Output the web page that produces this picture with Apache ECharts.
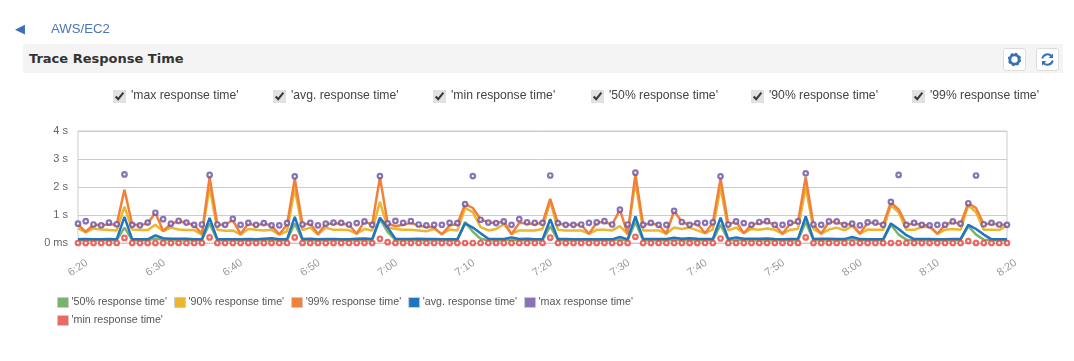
<!DOCTYPE html>
<html><head><meta charset="utf-8">
<style>
html,body{margin:0;padding:0;background:#fff;width:1074px;height:361px;overflow:hidden;font-family:"Liberation Sans",Arial,sans-serif}
#chart{position:absolute;left:0;top:0;width:1074px;height:361px}
.a{position:absolute}
#panel{left:23px;top:44px;width:1040px;height:29px;background:#f4f4f4}
#title{left:29px;top:51px;font:bold 13px "DejaVu Sans",sans-serif;color:#333;white-space:nowrap}
#back{left:15px;top:21px;font:13px "DejaVu Sans",sans-serif;color:#3a70b5}
#crumb{left:51px;top:21px;font-size:13.2px;color:#4a76b8}
.btn{top:48px;width:21px;height:21px;background:#fff;border:1px solid #ddd;border-radius:3px}
.btn svg{position:absolute;left:3px;top:3px}
.chk{top:90px;height:14px;display:block;font-size:12.2px;color:#444;white-space:nowrap}
.chk input{position:absolute;left:0;top:0;margin:0;width:13px;height:13px;accent-color:#e2e2e2}
.chk span{position:absolute;left:18px;top:-2px}
</style></head><body>
<div id="chart"></div>
<div class="a" id="back">◀</div>
<div class="a" id="crumb">AWS/EC2</div>
<div class="a" id="panel"></div>
<div class="a" id="title">Trace Response Time</div>
<div class="a btn" style="left:1003px"><svg width="15" height="15" viewBox="0 0 15 15"><circle cx="7.5" cy="7.5" r="4.6" fill="none" stroke="#3a70b5" stroke-width="2.8"/><circle cx="7.5" cy="7.5" r="5.8" fill="none" stroke="#3a70b5" stroke-width="1.8" stroke-dasharray="2.3 2.25"/></svg></div>
<div class="a btn" style="left:1036px"><svg width="15" height="15" viewBox="0 0 15 15" fill="none" stroke="#3a70b5" stroke-width="2"><path d="M2.3 6.5A5.3 5.3 0 0 1 11.6 4.2"/><path d="M12.7 8.5A5.3 5.3 0 0 1 3.4 10.8"/><path d="M13 1.6V6H8.6Z M2 13.4V9H6.4Z" fill="#3a70b5" stroke="none"/></svg></div>
<div id="checks"></div>
<script src="https://cdn.jsdelivr.net/npm/echarts@6/dist/echarts.min.js"></script>
<script>
const tickLabels=['6:20','6:30','6:40','6:50','7:00','7:10','7:20','7:30','7:40','7:50','8:00','8:10','8:20'];
const yTicks=['0 ms','1 s','2 s','3 s','4 s'];
const checkLabels=["'max response time'","'avg. response time'","'min response time'","'50% response time'","'90% response time'","'99% response time'"];
const checkX=[113,273,433,591,751,912];
const maxRT=[.69,.78,.66,.63,.73,.67,2.45,.65,.63,.73,1.08,.85,.69,.79,.73,.65,.66,2.43,.66,.65,.86,.65,.72,.65,.71,.63,.63,.71,2.38,.66,.72,.63,.69,.73,.72,.66,.71,.77,.65,2.39,
.7,.79,.72,.78,.66,.63,.65,.65,.72,.71,1.39,2.39,.83,.73,.71,.77,.65,.85,.74,.72,.72,2.41,.71,.65,.65,.66,.72,.74,.78,.66,1.19,.66,2.51,.65,.72,.65,.65,1.15,.75,.65,.71,.72,
.74,2.38,.66,.77,.71,.65,.75,.78,.65,.65,.72,.77,2.49,.66,.65,.77,.77,.65,.69,.63,.74,.73,.65,1.47,2.43,.65,.72,.65,.63,.65,.65,.77,.69,1.42,2.41,.67,.72,.66,.65];
const p99=[.66,.4,.65,.63,.66,.66,1.9,.66,.63,.7,1.08,.43,.68,.78,.72,.64,.33,2.35,.66,.65,.82,.32,.7,.62,.7,.62,.31,.65,2.3,.66,.7,.32,.68,.7,.7,.65,.33,.77,.65,2.35,
.7,.6,.65,.72,.62,.58,.55,.31,.62,.68,1.39,1.25,.85,.73,.71,.77,.31,.72,.7,.68,.72,1.58,.7,.65,.65,.65,.33,.72,.76,.65,1.19,.32,2.45,.65,.7,.65,.33,1.15,.75,.65,.7,.35,
.72,2.3,.66,.77,.35,.65,.72,.76,.65,.33,.7,.75,2.35,.66,.33,.75,.75,.65,.68,.33,.72,.72,.65,1.45,1.2,.65,.7,.65,.62,.33,.65,.75,.68,1.42,1.25,.67,.7,.66,.65];
const p90=[.52,.38,.52,.48,.46,.45,1.3,.48,.46,.46,.65,.42,.55,.48,.46,.46,.3,2,.47,.44,.45,.3,.5,.47,.45,.47,.3,.42,1.95,.46,.55,.3,.55,.47,.47,.46,.33,.5,.45,1.47,
.55,.5,.47,.47,.45,.42,.5,.32,.48,.45,1.25,1.1,.57,.45,.5,.67,.33,.45,.45,.45,.5,1.5,.47,.45,.45,.45,.33,.47,.47,.45,.6,.32,2.2,.45,.45,.45,.33,.55,.5,.55,.45,.35,
.48,2,.45,.55,.35,.5,.47,.52,.47,.33,.47,.5,2,.5,.33,.48,.55,.45,.6,.33,.48,.47,.47,1.35,1.1,.47,.47,.57,.57,.33,.47,.5,.47,1.35,1.1,.47,.47,.46,.63];
const avgRT=[.13,.14,.13,.13,.14,.13,.93,.13,.13,.13,.27,.17,.15,.15,.15,.13,.13,.9,.13,.13,.13,.13,.14,.13,.15,.17,.13,.13,.93,.14,.15,.13,.14,.14,.13,.13,.15,.16,.14,.9,
.55,.15,.14,.14,.15,.14,.14,.13,.13,.13,.7,.55,.35,.15,.14,.14,.2,.14,.15,.13,.13,.85,.14,.14,.13,.13,.13,.13,.13,.13,.22,.13,.95,.14,.14,.14,.14,.19,.15,.17,.15,.14,
.14,.9,.14,.2,.15,.15,.15,.16,.14,.13,.14,.15,.95,.14,.15,.15,.14,.14,.22,.14,.13,.13,.13,.7,.5,.28,.14,.14,.14,.13,.13,.14,.14,.65,.5,.3,.13,.13,.13];
const p50=[.1,.1,.1,.1,.1,.1,.55,.1,.1,.1,.16,.12,.1,.1,.1,.1,.1,.7,.1,.1,.1,.1,.1,.1,.1,.1,.1,.1,.7,.1,.1,.1,.1,.1,.1,.1,.1,.1,.1,.85,
.4,.1,.1,.1,.1,.1,.1,.1,.1,.1,.75,.4,.15,.1,.1,.1,.12,.1,.1,.1,.1,.6,.1,.1,.1,.1,.1,.1,.1,.1,.13,.1,.75,.1,.1,.1,.1,.12,.1,.1,.1,.1,
.1,.65,.1,.12,.1,.1,.1,.1,.1,.1,.1,.1,.75,.1,.1,.1,.1,.1,.14,.1,.1,.1,.1,.65,.3,.12,.1,.1,.1,.1,.1,.1,.1,.6,.3,.12,.1,.1,.1];
const minRT=[0,0,0,0,0,0,.18,0,0,0,0,0,0,0,0,0,0,.2,0,0,0,0,0,0,0,0,0,0,.2,0,0,0,0,0,0,0,0,0,0,.15,
.03,0,0,0,0,0,0,0,0,0,0,0,0,0,0,0,0,0,0,0,0,.19,0,0,0,0,0,0,0,0,0,0,.22,0,0,0,0,0,0,0,0,0,
0,.16,0,0,0,0,0,0,0,0,0,0,.2,0,0,0,0,0,0,0,0,0,0,0,0,0,0,0,0,0,0,0,0,.07,0,0,0,0,0];
const colors={p50:'#7cb26f',p90:'#eeb52f',p99:'#f0803a',avg:'#1f76bf',max:'#6a50a1',min:'#e5453c'};
const names=["'50% response time'","'90% response time'","'99% response time'","'avg. response time'","'max response time'","'min response time'"];

document.getElementById('checks').innerHTML=checkLabels.map((t,i)=>`<label class="a chk" style="left:${checkX[i]}px"><input type="checkbox" checked><span>${t}</span></label>`).join('');

const cats=[];
for(let h=6,m=20;cats.length<maxRT.length;){cats.push(h+':'+String(m).padStart(2,'0'));m++;if(m==60){m=0;h++;}}
const line=(name,data,color)=>({name,type:'line',data,showSymbol:false,symbol:'none',lineStyle:{color,width:2.5},itemStyle:{color},animation:false,z:2});
const dots=(name,data,color)=>({name,type:'scatter',data,symbol:'circle',symbolSize:4.5,clip:false,itemStyle:{color:'#fff',borderColor:color,borderWidth:2.2},animation:false,z:3});
const lgColors=[colors.p50,colors.p90,colors.p99,colors.avg,colors.max,colors.min];
const chart=echarts.init(document.getElementById('chart'),null,{renderer:'canvas'});
chart.setOption({
 animation:false,
 grid:{left:78,right:67,top:131,bottom:118,show:true,borderColor:'#ccc',borderWidth:1,backgroundColor:'transparent'},
 legend:{left:57,top:297,width:600,icon:'rect',itemWidth:11,itemHeight:10,itemGap:7,padding:0,
  textStyle:{fontFamily:'"Liberation Sans",Arial,sans-serif',fontSize:10.7,color:'#555',width:98,overflow:'none',padding:[0,0,0,-2]},
  data:names.map((name,i)=>({name,itemStyle:{color:lgColors[i],borderColor:'#ccc',borderWidth:1}}))},
 xAxis:{type:'category',data:cats,boundaryGap:false,
  axisLine:{lineStyle:{color:'#ccc'}},axisTick:{show:false},splitLine:{show:false},
  axisLabel:{interval:9,rotate:35,margin:25,align:'center',verticalAlign:'middle',color:'#999',fontSize:11,fontFamily:'"Liberation Sans",Arial,sans-serif',hideOverlap:false,showMaxLabel:true,showMinLabel:true}},
 yAxis:{type:'value',min:0,max:4,interval:1,
  axisLine:{show:false},axisTick:{show:false},splitLine:{lineStyle:{color:'#ccc',width:1}},
  axisLabel:{margin:10,color:'#666',fontSize:11,fontFamily:'"Liberation Sans",Arial,sans-serif',formatter:(v)=>yTicks[v]}},
 series:[line(names[0],p50,colors.p50),line(names[1],p90,colors.p90),line(names[2],p99,colors.p99),line(names[3],avgRT,colors.avg),dots(names[4],maxRT,colors.max),dots(names[5],minRT,colors.min)]
});
</script></body></html>
